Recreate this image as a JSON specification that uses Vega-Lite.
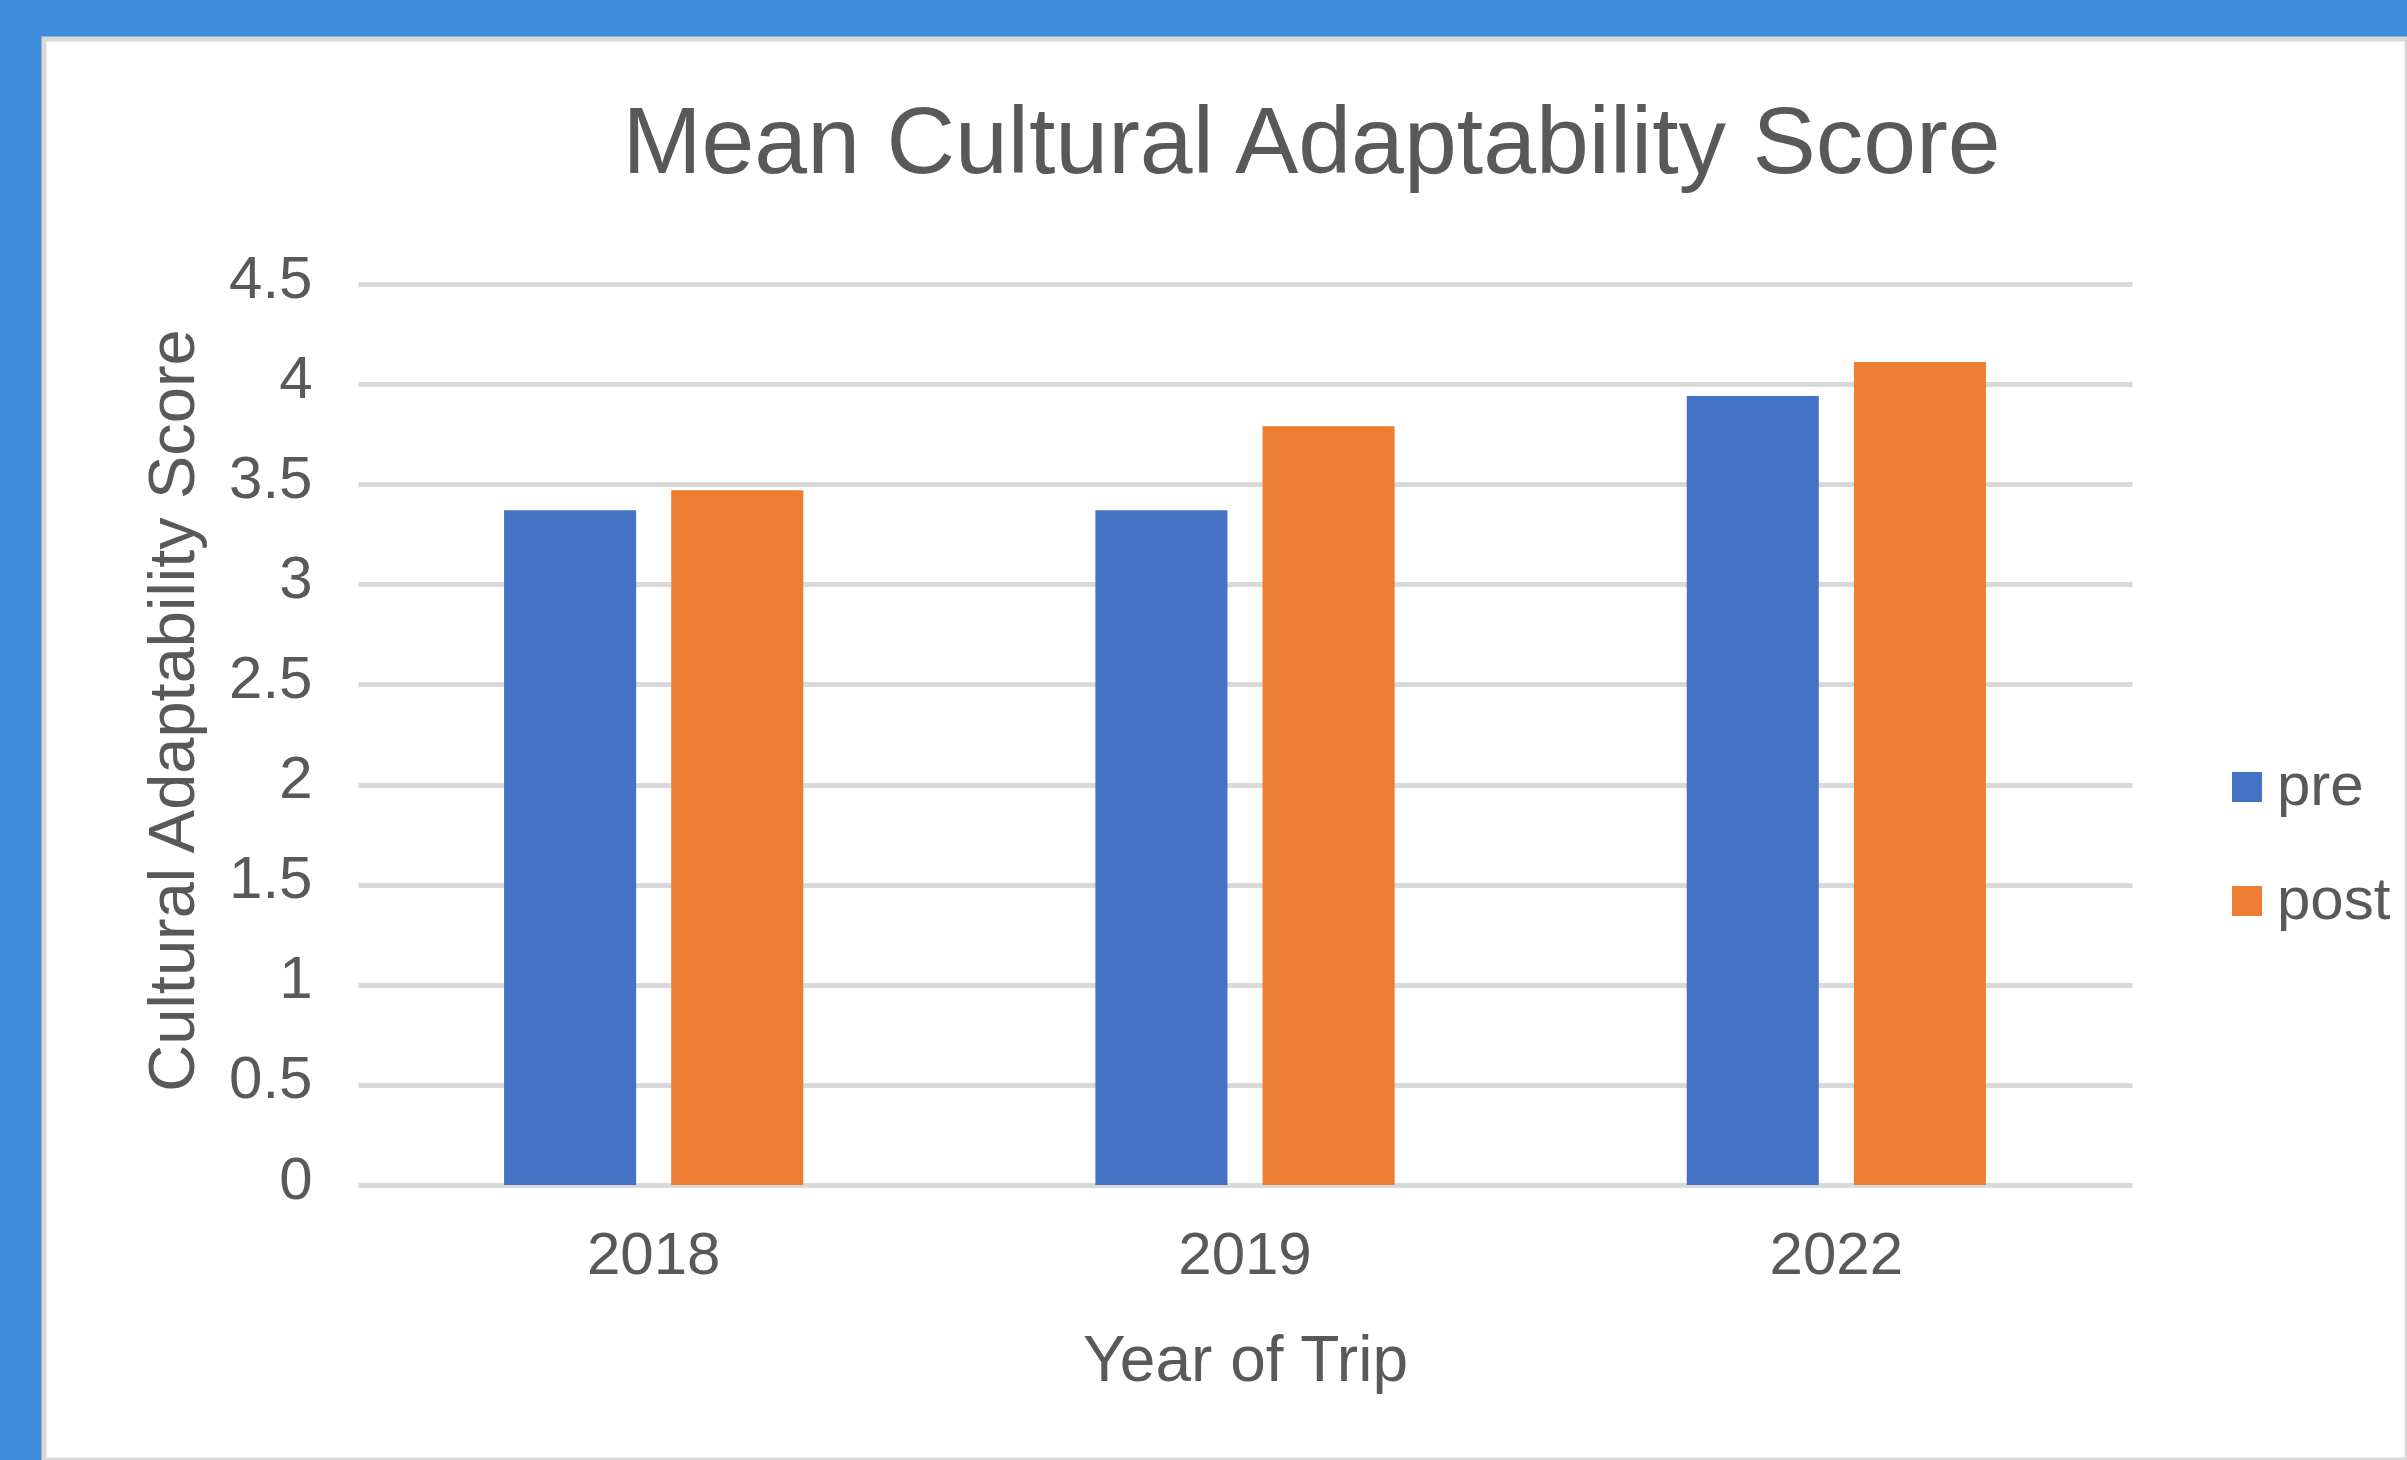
{
  "$schema": "https://vega.github.io/schema/vega-lite/v6.json",
  "autosize": {"type": "none"},
  "width": 2363,
  "height": 1421,
  "padding": {"left": 44, "top": 39, "right": 0, "bottom": 0},
  "background": "#408ddc",
  "config": {
    "font": "Liberation Sans",
    "view": {"fill": "white", "stroke": "#d9d9d9", "strokeWidth": 5},
    "axis": {"labelFont": "Liberation Sans", "titleFont": "Liberation Sans", "labelColor": "#595959", "titleColor": "#595959", "titleFontWeight": "normal"}
  },
  "title": {
    "text": "Mean Cultural Adaptability Score",
    "fontSize": 95,
    "font": "Liberation Sans",
    "fontWeight": "normal",
    "color": "#595959",
    "anchor": "middle",
    "frame": "group",
    "baseline": "alphabetic",
    "offset": 0,
    "dx": 86,
    "dy": 229
  },
  "data": {
    "values": [
      {"year": "2018", "phase": "pre", "score": 3.37},
      {"year": "2018", "phase": "post", "score": 3.47},
      {"year": "2019", "phase": "pre", "score": 3.37},
      {"year": "2019", "phase": "post", "score": 3.79},
      {"year": "2022", "phase": "pre", "score": 3.94},
      {"year": "2022", "phase": "post", "score": 4.11}
    ]
  },
  "mark": {"type": "bar"},
  "encoding": {
    "x": {
      "field": "year",
      "type": "nominal",
      "scale": {"range": [314, 2088], "paddingInner": 0.494, "paddingOuter": 0.247},
      "axis": {
        "title": "Year of Trip",
        "labelAngle": 0,
        "labelFontSize": 60,
        "labelBaseline": "alphabetic",
        "labelPadding": 88,
        "ticks": false,
        "tickSize": 0,
        "domain": false,
        "grid": false,
        "offset": -275,
        "titleFontSize": 64,
        "titleBaseline": "alphabetic",
        "titleY": 195
      }
    },
    "xOffset": {
      "field": "phase",
      "type": "nominal",
      "sort": ["pre", "post"],
      "scale": {"paddingInner": 0.21, "paddingOuter": 0}
    },
    "y": {
      "field": "score",
      "type": "quantitative",
      "scale": {"domain": [0, 4.5], "range": [1146, 245], "nice": false, "zero": true},
      "axis": {
        "title": "Cultural Adaptability Score",
        "values": [0, 0.5, 1, 1.5, 2, 2.5, 3, 3.5, 4, 4.5],
        "format": "~g",
        "labelFontSize": 60,
        "labelBaseline": "alphabetic",
        "labelOffset": 13,
        "labelPadding": 46,
        "ticks": false,
        "tickSize": 0,
        "domain": false,
        "grid": true,
        "gridColor": "#d9d9d9",
        "gridWidth": 5,
        "offset": -314,
        "titleFontSize": 65,
        "titleBaseline": "alphabetic",
        "titleX": -165,
        "titleY": 671
      }
    },
    "color": {
      "field": "phase",
      "type": "nominal",
      "sort": ["pre", "post"],
      "scale": {"domain": ["pre", "post"], "range": ["#4472c4", "#ed7d31"]},
      "legend": {
        "title": null,
        "orient": "none",
        "legendX": 2173,
        "legendY": 718,
        "padding": 0,
        "symbolType": "square",
        "symbolSize": 900,
        "symbolStrokeWidth": 0,
        "symbolOpacity": 1,
        "labelFontSize": 60,
        "labelFont": "Liberation Sans",
        "labelColor": "#595959",
        "labelOffset": 0,
        "rowPadding": 54
      }
    }
  }
}
